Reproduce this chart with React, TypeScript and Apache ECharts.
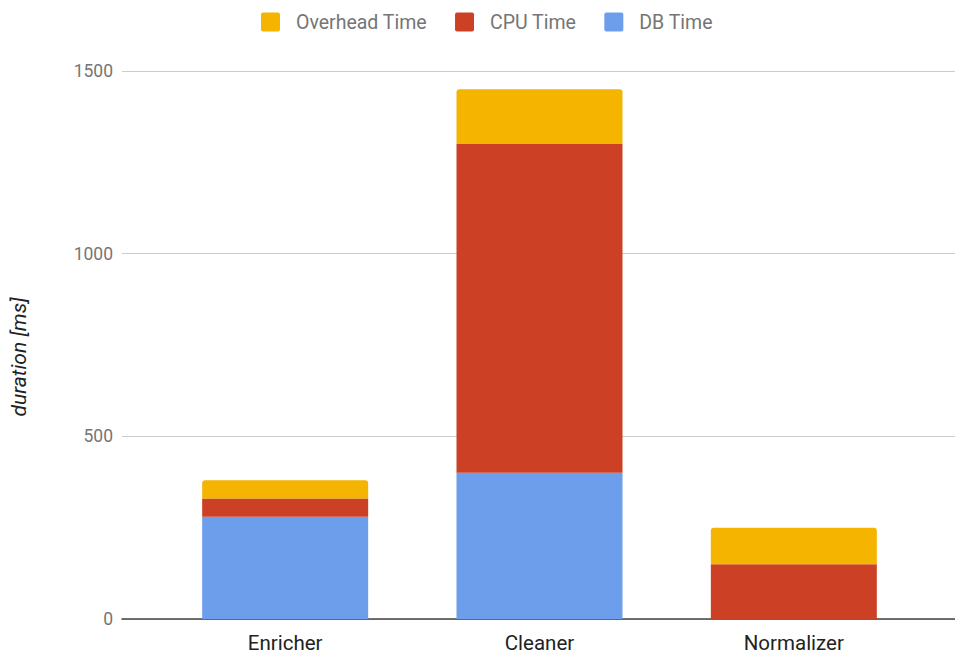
import React, { useEffect, useRef } from "react";
import * as echarts from "echarts";

const categories = ["Enricher", "Cleaner", "Normalizer"];
const dbTime = [280, 400, 0];
const cpuTime = [50, 900, 150];
const overheadTime = [50, 150, 100];
const yTicks = [0, 500, 1000, 1500];

const FONT = "Roboto";
const SQUARE_ICON =
  "path://M2,0 H17 A2,2 0 0 1 19,2 V17 A2,2 0 0 1 17,19 H2 A2,2 0 0 1 0,17 V2 A2,2 0 0 1 2,0 Z";

export default function App() {
  const ref = useRef<HTMLDivElement>(null);
  useEffect(() => {
    if (!ref.current) return;
    const chart = echarts.init(ref.current, undefined, { renderer: "svg" });
    chart.setOption({
      animation: false,
      textStyle: { fontFamily: FONT },
      legend: {
        data: ["Overhead Time", "CPU Time", "DB Time"],
        left: 256,
        top: 7,
        itemWidth: 19,
        itemHeight: 19,
        itemGap: 28,
        icon: SQUARE_ICON,
        selectedMode: false,
        textStyle: { fontFamily: FONT, fontSize: 19.5, color: "#757575", padding: [0, 0, 0, 11] },
      },
      grid: [
        { left: 113, right: 0, top: 71, bottom: 36 },
        { left: 158, right: 34, top: 71, bottom: 36 },
      ],
      xAxis: [
        {
          type: "category",
          gridIndex: 0,
          data: categories,
          axisLine: { show: true, lineStyle: { color: "#444", width: 1.5 } },
          axisTick: { show: false },
          axisLabel: { show: false },
        },
        {
          type: "category",
          gridIndex: 1,
          data: categories,
          axisLine: { show: false },
          axisTick: { show: false },
          axisLabel: { fontFamily: FONT, fontSize: 20.5, color: "#222", margin: 13 },
        },
      ],
      yAxis: [
        {
          type: "value",
          gridIndex: 0,
          min: yTicks[0],
          max: yTicks[yTicks.length - 1],
          interval: 500,
          name: "duration [ms]",
          nameLocation: "middle",
          nameGap: 93,
          nameTextStyle: {
            fontFamily: FONT,
            fontSize: 21,
            fontStyle: "italic",
            color: "#222",
            padding: [0, 24, 0, 0],
          },
          axisLine: { show: false },
          axisTick: { show: false },
          axisLabel: {
            fontFamily: FONT,
            fontSize: 17.5,
            color: "#757575",
            margin: 9,
            formatter: (v: number) => String(v),
          },
          splitLine: { lineStyle: { color: "#cccccc", width: 1 } },
        },
        {
          type: "value",
          gridIndex: 1,
          min: yTicks[0],
          max: yTicks[yTicks.length - 1],
          interval: 500,
          show: false,
          splitLine: { show: false },
        },
      ],
      series: [
        {
          name: "DB Time",
          type: "bar",
          xAxisIndex: 1,
          yAxisIndex: 1,
          stack: "t",
          barWidth: 166,
          data: dbTime,
          itemStyle: { color: "#6D9EEB" },
        },
        {
          name: "CPU Time",
          type: "bar",
          xAxisIndex: 1,
          yAxisIndex: 1,
          stack: "t",
          barWidth: 166,
          data: cpuTime,
          itemStyle: { color: "#CC4125" },
        },
        {
          name: "Overhead Time",
          type: "bar",
          xAxisIndex: 1,
          yAxisIndex: 1,
          stack: "t",
          barWidth: 166,
          data: overheadTime,
          itemStyle: { color: "#F4B400", borderRadius: [3, 3, 0, 0] },
        },
      ],
    });
    return () => chart.dispose();
  }, []);
  return <div ref={ref} style={{ width: 955, height: 655, position: "absolute", left: 0, top: 0 }} />;
}
